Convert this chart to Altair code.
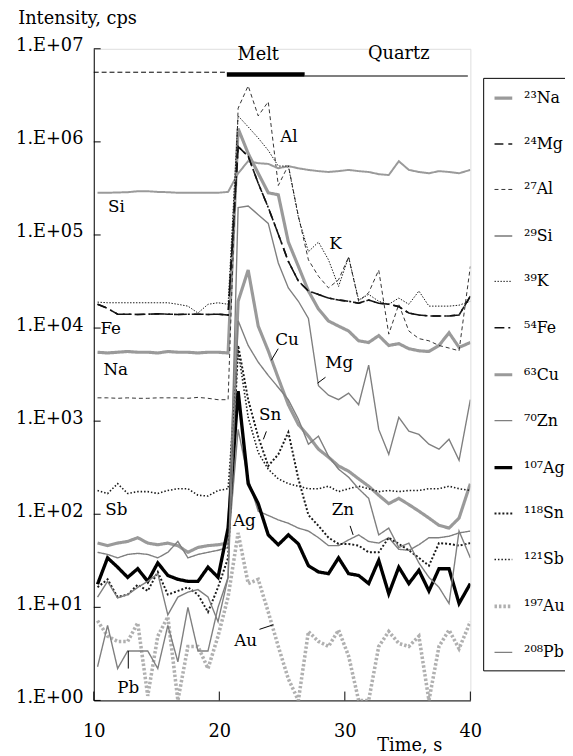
import altair as alt
import pandas as pd

FONT = "DejaVu Serif"

# sample times (s)
TIME = [10.3, 11.1, 11.9, 12.7, 13.5, 14.3, 15.1, 15.9, 16.7, 17.5, 18.3, 19.1, 19.9,
        20.7, 21.5, 22.3, 23.1, 23.9, 24.7, 25.5, 26.3, 27.1, 27.9, 28.7, 29.5, 30.3,
        31.1, 31.9, 32.7, 33.5, 34.3, 35.1, 35.9, 36.7, 37.5, 38.3, 39.1, 40.0]

NA = [5500, 5400, 5500, 5600, 5500, 5500, 5400, 5600, 5500, 5500, 5400, 5500, 5500, 5400,
      1.39e6, 7.5e5, 4.6e5, 2.84e5, 2.7e5, 8.4e4, 4.6e4, 2.5e4, 1.6e4, 1.19e4, 1.05e4, 9300,
      7300, 7000, 8300, 6500, 6800, 6000, 5700, 5600, 6500, 8900, 6200, 7000]
MG = [1.8e4, 1.63e4, 1.41e4, 1.41e4, 1.4e4, 1.41e4, 1.42e4, 1.41e4, 1.4e4, 1.41e4, 1.41e4, 1.4e4, 1.41e4, 1.38e4,
      8.9e5, 7.0e5, 3.6e5, 1.97e5, 1.02e5, 5.2e4, 3.2e4, 2.5e4, 2.3e4, 2.1e4, 2.0e4, 1.94e4,
      1.85e4, 2.0e4, 1.85e4, 1.8e4, 1.7e4, 1.45e4, 1.38e4, 1.35e4, 1.35e4, 1.35e4, 1.38e4, 2.2e4]
AL = [1780, 1780, 1760, 1780, 1760, 1760, 1780, 1780, 1780, 1760, 1800, 1760, 1700, 1700,
      2.3e6, 4.0e6, 1.9e6, 2.7e6, 3.4e5, 5.6e5, 1.6e5, 5.4e4, 3.6e4, 2.7e4, 3.3e4, 5.8e4,
      1.94e4, 2.4e4, 4.2e4, 8600, 1.8e4, 9300, 7700, 7300, 6500, 6100, 5700, 4.6e4]
SI = [2.84e5, 2.84e5, 2.86e5, 2.88e5, 2.95e5, 2.95e5, 2.9e5, 2.88e5, 2.84e5, 2.84e5, 2.84e5, 2.84e5, 2.84e5, 2.9e5,
      4.6e5, 6.2e5, 5.9e5, 5.8e5, 5.2e5, 5.5e5, 5.2e5, 5.0e5, 4.85e5, 4.75e5, 4.85e5, 5.0e5,
      4.85e5, 4.75e5, 4.5e5, 4.4e5, 6.2e5, 5.0e5, 4.75e5, 4.6e5, 4.85e5, 4.75e5, 4.6e5, 5.0e5]
K = [1.9e4, 1.87e4, 1.87e4, 1.87e4, 1.87e4, 1.87e4, 1.87e4, 1.87e4, 1.8e4, 1.72e4, 1.45e4, 1.8e4, 1.87e4, 1.8e4,
     1.9e6, 1.45e6, 1.1e6, 8.1e5, 5.5e5, 5.5e5, 1.55e5, 6.6e4, 8.4e4, 5.4e4, 2.8e4, 5.8e4,
     2.0e4, 2.3e4, 1.94e4, 1.8e4, 2.1e4, 1.8e4, 2.5e4, 1.72e4, 1.72e4, 1.72e4, 1.76e4, 1.94e4]
FE = [1.8e4, 1.63e4, 1.41e4, 1.41e4, 1.4e4, 1.41e4, 1.42e4, 1.41e4, 1.4e4, 1.41e4, 1.41e4, 1.4e4, 1.41e4, 1.38e4,
      8.9e5, 7.0e5, 3.6e5, 1.97e5, 1.02e5, 5.2e4, 3.2e4, 2.5e4, 2.3e4, 2.1e4, 2.0e4, 1.94e4,
      1.85e4, 2.0e4, 1.85e4, 1.8e4, 1.7e4, 1.45e4, 1.38e4, 1.35e4, 1.35e4, 1.35e4, 1.38e4, 2.2e4]
CU = [49, 46, 49, 51, 56, 49, 47, 49, 46, 39, 44, 46, 47, 49,
      1.94e4, 4.2e4, 1.05e4, 5700, 2900, 1500, 920, 690, 500, 410, 330, 290,
      240, 200, 160, 130, 148, 127, 108, 91, 76, 71, 91, 213]
ZN = [39, 37, 34, 37, 38, 37, 34, 39, 51, 34, 37, 39, 41, 44,
      815, 240, 108, 97, 87, 80, 71, 66, 56, 46, 46, 53,
      60, 51, 49, 56, 42, 41, 47, 56, 56, 58, 63, 66]
AG = [17.7, 34, 27, 21, 26, 19, 30, 22, 20, 19, 19, 27, 21, 71,
      2100, 213, 130, 60, 47, 60, 48, 28, 24, 23, 34, 23,
      22, 18, 32, 14, 27, 18, 25, 15, 26, 26, 11, 18]
SN = [16.4, 20, 12.9, 13.7, 17.5, 15, 24, 13.7, 15, 16.4, 13.7, 8.9, 16.4, 34,
      6500, 1700, 680, 330, 440, 760, 240, 98, 75, 56, 48, 48,
      46, 39, 39, 56, 48, 41, 34, 28, 49, 48, 46, 49]
SB = [180, 167, 213, 167, 175, 175, 167, 180, 188, 188, 160, 157, 180, 188,
      5700, 1100, 460, 305, 240, 213, 200, 188, 188, 200, 175, 188,
      200, 188, 175, 180, 175, 180, 180, 188, 188, 200, 188, 180]
AU = [7.2, 4.9, 4.3, 4.3, 6.8, 1.12, 4.9, 7.9, 1.0, 3.8, 3.8, 2.2, 4.9, 12.9,
      63, 18, 20, 8.9, 3.8, 1.7, 1.0, 5.5, 4.3, 3.8, 5.7, 3.0,
      1.0, 1.0, 3.8, 5.5, 4.1, 3.8, 4.9, 1.0, 3.8, 5.7, 3.6, 7.0]
PB = [2.3, 6.4, 2.2, 3.4, 3.4, 3.4, 2.2, 6.4, 2.6, 10, 3.4, 3.4, 10, 21,
      1.2e4, 6500, 4300, 3100, 2300, 1700, 1050, 565, 690, 420, 305, 250,
      188, 148, 60, 71, 44, 49, 30, 21, 16.4, 11, 66, 34]
# thin grey trace labelled "Mg" in the plot body
MG_TRACE = [12.9, 19, 12.6, 13.7, 16.4, 19, 23, 8.3, 12.9, 14.6, 15.5, 12.9, 7.0, 21,
            1.97e5, 2.05e5, 1.65e5, 1.33e5, 5.0e4, 2.7e4, 1.94e4, 1.27e4, 2400, 1900, 1700, 2000,
            1500, 4000, 815, 440, 1100, 780, 720, 565, 500, 640, 380, 1700]

SERIES = ["²³Na", "²⁴Mg", "²⁷Al", "²⁹Si", "³⁹K", "⁵⁴Fe", "⁶³Cu", "⁷⁰Zn",
          "¹⁰⁷Ag", "¹¹⁸Sn", "¹²¹Sb", "¹⁹⁷Au", "²⁰⁸Pb"]
VALUES = [NA, MG, AL, SI, K, FE, CU, ZN, AG, SN, SB, AU, PB]
COLORS = ["#9a9a9a", "#1a1a1a", "#333333", "#9a9a9a", "#1a1a1a", "#111111", "#9a9a9a",
          "#7f7f7f", "#000000", "#1a1a1a", "#1a1a1a", "#b0b0b0", "#7f7f7f"]
DASHES = [[1, 0], [9, 5], [4, 3], [1, 0], [1.5, 1.5], [10, 4, 2, 4], [1, 0], [1, 0],
          [1, 0], [2, 2], [1.5, 2], [2.5, 2], [1, 0]]
WIDTHS = [3.2, 1.6, 1.0, 2.0, 1.0, 1.6, 3.2, 1.4, 3.4, 2.0, 1.6, 3.6, 1.4]
THRESH = [0.5, 1.5, 2.5, 3.5, 4.5, 5.5, 6.5, 7.5, 8.5, 9.5, 10.5, 11.5]

# in-plot element labels
LABELS = ["Si", "Fe", "Na", "Sb", "Pb", "Al", "K", "Cu", "Mg", "Sn", "Zn", "Ag", "Au"]
LABEL_T = [11.8, 11.35, 11.75, 11.8, 12.75, 25.55, 29.25, 25.4, 29.55, 24.05, 29.85, 22.0, 22.1]
LABEL_V = [1.97e5, 9.8e3, 3.5e3, 110, 1.37, 1.14e6, 8.0e4, 7.5e3, 4.2e3, 1.17e3, 110, 84, 4.3]

# short pointer strokes from labels to curves
PTR_T = [24.69, 28.46, 23.75, 30.42, 23.2, 12.75]
PTR_T2 = [24.14, 27.83, 23.51, 30.66, 24.3, 12.75]
PTR_V = [6.0e3, 2.96e3, 776, 75, 5.8, 3.4]
PTR_V2 = [4.5e3, 2.56e3, 638, 60, 6.5, 2.2]

# Melt / Quartz zone bar
BAR_T = [10.0, 20.6, 26.8]
BAR_T2 = [20.6, 26.8, 39.8]
BAR_V = [5.6e6, 5.3e6, 5.1e6]
ZONE_TEXT = ["Melt", "Quartz"]
ZONE_T = [23.1, 34.3]
ZONE_V = [8.6e6, 8.8e6]

Y_TICKS = [1, 10, 100, 1e3, 1e4, 1e5, 1e6, 1e7]
X_TICKS = [10, 20, 30, 40]

rows = []
for idx, (name, vals) in enumerate(zip(SERIES, VALUES)):
    for t, v in zip(TIME, vals):
        rows.append({"series": name, "idx": idx, "t": t, "v": v})
df = pd.DataFrame(rows)
df_trace = pd.DataFrame({"t": TIME, "v": MG_TRACE})
df_lab = pd.DataFrame({"label": LABELS, "t": LABEL_T, "v": LABEL_V})
df_ptr = pd.DataFrame({"t": PTR_T, "t2": PTR_T2, "v": PTR_V, "v2": PTR_V2})
df_bar = pd.DataFrame({"t": BAR_T, "t2": BAR_T2, "v": BAR_V, "kind": ["q1", "melt", "q2"]})
df_zone = pd.DataFrame({"label": ZONE_TEXT, "t": ZONE_T, "v": ZONE_V})
df_yt = pd.DataFrame({"v": Y_TICKS})
df_xt = pd.DataFrame({"t": X_TICKS})

x_scale = alt.Scale(domain=[10, 40], nice=False, zero=False)
y_scale = alt.Scale(type="log", domain=[1, 1e7], nice=False)

x_axis = alt.Axis(values=X_TICKS, ticks=False, grid=False, labelFont=FONT, labelFontSize=18,
                  labelColor="black", labelPadding=23, labelFlush=False, domainColor="black",
                  title="Time, s", titleFont=FONT, titleFontSize=18, titleFontWeight="normal",
                  titleColor="black", titleX=320, titleY=46, titleAlign="center",
                  titleBaseline="middle")
y_axis = alt.Axis(values=Y_TICKS, labelExpr="'1.E+0' + round(log(datum.value) / LN10)",
                  ticks=False, grid=False, labelFont=FONT, labelFontSize=18, labelColor="black",
                  labelPadding=11, labelOffset=-3, labelFlush=False, labelOverlap=False,
                  domainColor="black",
                  title="Intensity, cps", titleFont=FONT, titleFontSize=18,
                  titleFontWeight="normal", titleColor="black", titleAngle=0, titleX=-17,
                  titleY=-31, titleAlign="center", titleBaseline="middle")


def X(field="t"):
    return alt.X(field + ":Q", scale=x_scale, axis=x_axis)


def Y(field="v"):
    return alt.Y(field + ":Q", scale=y_scale, axis=y_axis)


names_js = "[" + ",".join("'" + s + "'" for s in SERIES) + "]"
legend = alt.Legend(orient="none", legendX=395, legendY=29.5, title=None, symbolType="stroke",
                    symbolSize=324, labelFont=FONT, labelFontSize=16, labelColor="black",
                    labelOffset=10, rowPadding=28.6, padding=9.5, strokeColor="black",
                    fillColor="white", labelLimit=200,
                    labelExpr=names_js + "[datum.value < 0 ? 0 : round(datum.value + 0.5)]")

lines = alt.Chart(df).mark_line(clip=True).encode(
    x=X(), y=Y(),
    detail="series:N",
    color=alt.Color("idx:Q", scale=alt.Scale(type="threshold", domain=THRESH, range=COLORS),
                    legend=legend),
    strokeDash=alt.StrokeDash("idx:Q", scale=alt.Scale(type="threshold", domain=THRESH, range=DASHES),
                              legend=legend),
    strokeWidth=alt.StrokeWidth("idx:Q", scale=alt.Scale(type="threshold", domain=THRESH, range=WIDTHS),
                                legend=legend),
)

trace = alt.Chart(df_trace).mark_line(clip=True, color="#7f7f7f", strokeWidth=1.4).encode(x=X(), y=Y())

texts = alt.Chart(df_lab).mark_text(font=FONT, fontSize=17, color="black", align="center",
                                    baseline="middle").encode(x=X(), y=Y(), text="label:N")

ptrs = alt.Chart(df_ptr).mark_rule(color="black", strokeWidth=1).encode(
    x=X(), x2="t2:Q", y=Y(), y2="v2:Q")

bar_q1 = alt.Chart(df_bar[df_bar.kind == "q1"]).mark_rule(color="black", strokeWidth=1,
                                                           strokeDash=[5, 3]).encode(
    x=X(), x2="t2:Q", y=Y())
bar_melt = alt.Chart(df_bar[df_bar.kind == "melt"]).mark_rule(color="black", strokeWidth=4.5).encode(
    x=X(), x2="t2:Q", y=Y())
bar_q2 = alt.Chart(df_bar[df_bar.kind == "q2"]).mark_rule(color="black", strokeWidth=1.2).encode(
    x=X(), x2="t2:Q", y=Y())

zones = alt.Chart(df_zone).mark_text(font=FONT, fontSize=18, color="black", align="center",
                                     baseline="middle").encode(x=X(), y=Y(), text="label:N")

yticks = alt.Chart(df_yt).mark_rule(color="black", strokeWidth=1).encode(
    y=Y(), x=alt.value(0), x2=alt.value(7))
xticks = alt.Chart(df_xt).mark_rule(color="black", strokeWidth=1).encode(
    x=X(), y=alt.value(661), y2=alt.value(652))

chart = alt.layer(lines, trace, ptrs, bar_q1, bar_melt, bar_q2, texts, zones, yticks, xticks).properties(
    width=382, height=661,
    padding={"left": 87, "top": 36, "right": 96, "bottom": 51},
    autosize=alt.AutoSizeParams(type="none"),
).configure_view(stroke=None).configure(background="white")

chart.save("out.html", embed_options={"renderer": "svg", "actions": False})
